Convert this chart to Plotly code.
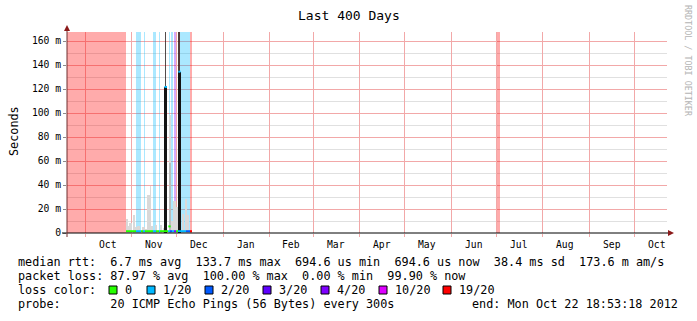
import pandas as pd
import plotly.graph_objects as go

# ---------------- data ----------------
T_START = "2011-09-18 18:53:18"
T_END = "2012-10-22 18:53:18"
Y_MAX = 167.5  # top of graph in milli-seconds

y_tick_vals = [0, 20, 40, 60, 80, 100, 120, 140, 160]
y_tick_labels = ["0", "20 m", "40 m", "60 m", "80 m", "100 m", "120 m", "140 m", "160 m"]

month_starts = ["2011-10-01", "2011-11-01", "2011-12-01", "2012-01-01", "2012-02-01", "2012-03-01",
                "2012-04-01", "2012-05-01", "2012-06-01", "2012-07-01", "2012-08-01", "2012-09-01",
                "2012-10-01"]
month_label_dates = ["2011-10-16", "2011-11-16", "2011-12-16", "2012-01-16", "2012-02-15",
                     "2012-03-16", "2012-04-16", "2012-05-16", "2012-06-16", "2012-07-16",
                     "2012-08-16", "2012-09-16", "2012-10-16"]
month_labels = ["Oct", "Nov", "Dec", "Jan", "Feb", "Mar", "Apr", "May", "Jun", "Jul", "Aug", "Sep", "Oct"]

loss_levels = ["0", "1/20", "2/20", "3/20", "4/20", "10/20", "19/20"]
loss_colors = ["#26ff00", "#00b8ff", "#0059ff", "#5e00ff", "#7e00ff", "#dd00ff", "#ff0000"]

# loss background bars (full height)
bg_start = ["2011-09-18 18:53", "2011-11-03 19:00", "2011-11-06 00:00", "2011-11-08 19:00",
            "2011-11-15 03:00", "2011-11-18 22:00", "2011-11-25 14:00", "2011-11-27 08:00",
            "2011-11-29 08:00", "2011-12-01 19:00", "2011-12-03 03:00", "2011-12-09 19:00",
            "2012-07-01 06:00"]
bg_end = ["2011-10-28 03:00", "2011-11-05 14:00", "2011-11-07 08:00", "2011-11-09 19:00",
          "2011-11-17 08:00", "2011-11-19 19:00", "2011-11-26 06:00", "2011-11-28 06:00",
          "2011-11-30 11:00", "2011-12-03 03:00", "2011-12-09 19:00", "2011-12-11 03:00",
          "2012-07-03 18:00"]
bg_loss = [6, 1, 1, 1, 1, 1, 1, 1, 4, 6, 1, 6, 6]

# light smoke (ms)
smoke_start = ["2011-10-28 11:00", "2011-10-29 16:00", "2011-10-30 08:00", "2011-11-01 14:00",
               "2011-11-03 03:00", "2011-11-04 11:00", "2011-11-07 19:00", "2011-11-09 19:00",
               "2011-11-11 08:00", "2011-11-13 03:00", "2011-11-14 06:00", "2011-11-16 11:00",
               "2011-11-19 19:00", "2011-11-21 19:00", "2011-11-25 14:00", "2011-11-27 08:00",
               "2011-11-28 16:00", "2011-11-30 22:00", "2011-12-04 11:00", "2011-12-06 06:00",
               "2011-12-07 14:00"]
smoke_end = ["2011-10-29 16:00", "2011-10-30 08:00", "2011-10-31 22:00", "2011-11-03 03:00",
             "2011-11-03 19:00", "2011-11-06 06:00", "2011-11-09 14:00", "2011-11-11 08:00",
             "2011-11-13 03:00", "2011-11-13 14:00", "2011-11-14 22:00", "2011-11-17 14:00",
             "2011-11-21 08:00", "2011-11-22 22:00", "2011-11-27 08:00", "2011-11-28 11:00",
             "2011-11-30 06:00", "2011-12-02 00:00", "2011-12-05 19:00", "2011-12-07 14:00",
             "2011-12-09 08:00"]
smoke_top = [12, 6, 8, 15, 5, 6, 5, 3, 32, 39, 6, 7, 7, 4, 98, 10, 27, 22, 16, 28, 15]

# denser smoke
dense_start = ["2011-11-26 00:00"]
dense_end = ["2011-11-27 03:00"]
dense_top = [58]

# dark bursts (black bars up to median) and max smoke above them
burst_start = ["2011-11-22 18:00", "2011-12-02 00:00"]
burst_end = ["2011-11-24 11:00", "2011-12-03 11:00"]
burst_top = [121.7, 134.4]
upper_start = ["2011-11-23 03:00", "2011-12-01 19:00"]
upper_end = ["2011-11-23 22:00", "2011-12-03 08:00"]
upper_bottom = [121.7, 134.4]

# median rtt line segments (ms) coloured by loss
med_start = ["2011-10-28 03:00", "2011-11-03 19:00", "2011-11-07 03:00", "2011-11-08 11:00",
             "2011-11-09 19:00", "2011-11-15 03:00", "2011-11-17 03:00", "2011-11-19 03:00",
             "2011-11-19 19:00", "2011-11-25 03:00", "2011-11-26 11:00", "2011-11-27 19:00",
             "2011-11-29 03:00", "2011-11-30 11:00", "2011-12-01 19:00", "2011-12-07 03:00",
             "2011-12-09 19:00", "2011-11-22 18:00", "2011-12-02 00:00", "2011-11-25 08:00"]
med_end = ["2011-11-03 19:00", "2011-11-07 03:00", "2011-11-08 11:00", "2011-11-09 19:00",
           "2011-11-15 03:00", "2011-11-17 03:00", "2011-11-19 03:00", "2011-11-19 19:00",
           "2011-11-25 03:00", "2011-11-26 11:00", "2011-11-27 19:00", "2011-11-29 03:00",
           "2011-11-30 11:00", "2011-12-01 19:00", "2011-12-07 03:00", "2011-12-09 19:00",
           "2011-12-11 03:00", "2011-11-24 11:00", "2011-12-03 11:00", "2011-11-26 22:00"]
med_value = [1.5, 1.5, 1.5, 1.5, 1.5, 1.5, 1.5, 1.5, 1.5, 1.5, 1.5, 1.5, 1.5, 1.5, 1.5, 1.5, 1.5,
             121.7, 134.4, 5.5]
med_loss = [0, 1, 0, 1, 0, 1, 0, 1, 0, 1, 2, 1, 4, 0, 1, 2, 6, 1, 1, 0]

legend_line1 = "median rtt:  6.7 ms avg  133.7 ms max  694.6 us min  694.6 us now  38.4 ms sd  173.6 m am/s"
legend_line2 = "packet loss: 87.97 % avg  100.00 % max  0.00 % min  99.90 % now"
legend_line3_label = "loss color:"
legend_line4 = "probe:       20 ICMP Echo Pings (56 Bytes) every 300s"
legend_end = "end: Mon Oct 22 18:53:18 2012"
title_text = "Last 400 Days"
y_title = "Seconds"
watermark = "RRDTOOL / TOBI OETIKER"

# ---------------- helpers ----------------
FONT = "DejaVu Sans Mono"
L, R, T, B, W, H = 67, 30, 32, 88, 697, 321
PW, PH = W - L - R, H - T - B


def px2x(px):
    return (px - L) / PW


def py2y(py):
    return (T + PH - py) / PH


def spans(starts, ends):
    s = pd.to_datetime(pd.Series(starts))
    e = pd.to_datetime(pd.Series(ends))
    centers = s + (e - s) / 2
    widths = (e - s).dt.total_seconds() * 1000.0
    return list(centers), list(widths)


def rgba(hexc, a):
    h = hexc.lstrip("#")
    return "rgba(%d,%d,%d,%.2f)" % (int(h[0:2], 16), int(h[2:4], 16), int(h[4:6], 16), a)


def nb(s):
    return s.replace(" ", "\u00a0")


fig = go.Figure()

# loss background
c, w = spans(bg_start, bg_end)
fig.add_trace(go.Bar(x=c, y=[Y_MAX] * len(c), base=0, width=w,
                     marker=dict(color=[rgba(loss_colors[i], 0.33) for i in bg_loss], line=dict(width=0)),
                     hoverinfo="skip", showlegend=False))
# smoke
c, w = spans(smoke_start, smoke_end)
fig.add_trace(go.Bar(x=c, y=smoke_top, base=0, width=w,
                     marker=dict(color="#d9d9d9", line=dict(width=0)), hoverinfo="skip", showlegend=False))
c, w = spans(dense_start, dense_end)
fig.add_trace(go.Bar(x=c, y=dense_top, base=0, width=w,
                     marker=dict(color="#bcbcbc", line=dict(width=0)), hoverinfo="skip", showlegend=False))
# upper dark smoke
c, w = spans(upper_start, upper_end)
fig.add_trace(go.Bar(x=c, y=[Y_MAX - b for b in upper_bottom], base=upper_bottom, width=w,
                     marker=dict(color="rgba(40,30,30,0.8)", line=dict(width=0)), hoverinfo="skip", showlegend=False))
# black bursts
c, w = spans(burst_start, burst_end)
fig.add_trace(go.Bar(x=c, y=burst_top, base=0, width=w,
                     marker=dict(color="#141414", line=dict(width=0)), hoverinfo="skip", showlegend=False))

# median lines, one trace per loss class
for k, col in enumerate(loss_colors):
    xs, ys = [], []
    for s, e, v, lo in zip(med_start, med_end, med_value, med_loss):
        if lo == k:
            xs += [s, e, None]
            ys += [v, v, None]
    if xs:
        fig.add_trace(go.Scatter(x=xs, y=ys, mode="lines", line=dict(color=col, width=2),
                                 hoverinfo="skip", showlegend=False))

grid_red = "#f2a8a8"
grid_gray = "#e0e0e0"

fig.update_layout(
    width=W, height=H, autosize=False,
    margin=dict(l=L, r=R, t=T, b=B, pad=0),
    paper_bgcolor="white", plot_bgcolor="white",
    barmode="overlay", bargap=0,
    font=dict(family=FONT, color="black"),
    xaxis=dict(type="date", range=[T_START, T_END], tickmode="array",
               tickvals=month_starts, ticktext=[""] * len(month_starts),
               ticks="outside", ticklen=3, tickcolor=grid_red, tickwidth=1,
               showgrid=True, gridcolor=grid_red, gridwidth=1,
               zeroline=False, showline=False),
    yaxis=dict(range=[0, Y_MAX], tickmode="array", tickvals=y_tick_vals, ticktext=y_tick_labels,
               ticks="outside", ticklen=3, tickcolor="#8a8a8a",
               showgrid=True, gridcolor=grid_red, gridwidth=1, zeroline=False, showline=False,
               tickfont=dict(family=FONT, size=9.7, color="black"),
               minor=dict(tick0=0, dtick=10, showgrid=True, gridcolor=grid_gray, gridwidth=1)),
)

shapes = []
# axes
shapes.append(dict(type="line", xref="paper", yref="paper", x0=px2x(62), x1=px2x(669), y0=0, y1=0,
                   line=dict(color="black", width=1), layer="above"))
shapes.append(dict(type="line", xref="paper", yref="paper", x0=0, x1=0, y0=py2y(237), y1=py2y(30),
                   line=dict(color="#6e2e2e", width=1), layer="above"))
# arrows
shapes.append(dict(type="path", xref="paper", yref="paper",
                   path="M %f %f L %f %f L %f %f Z" % (px2x(674), py2y(233), px2x(668), py2y(230), px2x(668), py2y(236)),
                   fillcolor="#8b1a1a", line=dict(width=0), layer="above"))
shapes.append(dict(type="path", xref="paper", yref="paper",
                   path="M %f %f L %f %f L %f %f Z" % (px2x(67), py2y(25), px2x(64), py2y(31), px2x(70), py2y(31)),
                   fillcolor="#8b1a1a", line=dict(width=0), layer="above"))

annotations = []


def txt(text, px, py, size=11.8, anchor="left", color="black", angle=0):
    annotations.append(dict(text=nb(text), x=px2x(px), y=py2y(py), xref="paper", yref="paper",
                            xanchor=anchor, yanchor="middle", showarrow=False, textangle=angle,
                            font=dict(family=FONT, size=size, color=color)))


# month labels centred in each month (data x, paper y)
for d, lab in zip(month_label_dates, month_labels):
    annotations.append(dict(text=lab, x=d, xref="x", y=py2y(244), yref="paper",
                            xanchor="center", yanchor="middle", showarrow=False,
                            font=dict(family=FONT, size=9.7, color="black")))

txt(title_text, 348.5, 16, size=13, anchor="center")
txt(y_title, 14, 131, size=11.8, anchor="center", angle=-90)
txt(watermark, 688, 61, size=8.4, anchor="center", color="#b4b4b4", angle=90)
txt(legend_line1, 16, 262)
txt(legend_line2, 16, 276)
txt(legend_line3_label, 16, 290)
txt(legend_line4, 16, 304)
txt(legend_end, 680, 304, anchor="right")

box_px = [109, 147, 205, 263, 321, 379, 443]
for bx, lev, col in zip(box_px, loss_levels, loss_colors):
    shapes.append(dict(type="rect", xref="paper", yref="paper", x0=px2x(bx), x1=px2x(bx + 8),
                       y0=py2y(294), y1=py2y(286), fillcolor=col, line=dict(color="black", width=1)))
    txt(lev, bx + 14, 290)

fig.update_layout(shapes=shapes, annotations=annotations)
fig.write_html("out.html")
